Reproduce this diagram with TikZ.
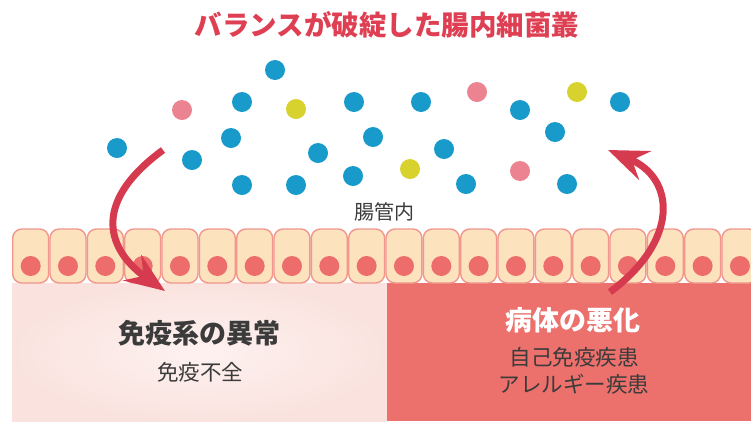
\documentclass[tikz,border=0pt]{standalone}
\usepackage{fontspec}
\setmainfont{Noto Sans CJK JP}
\usetikzlibrary{arrows.meta}

\definecolor{titlered}{HTML}{DE3F52}
\definecolor{arrowred}{HTML}{D63A4E}
\definecolor{bacblue}{HTML}{189BCB}
\definecolor{bacpink}{HTML}{EC8391}
\definecolor{bacyellow}{HTML}{D8D22E}
\definecolor{cellfill}{HTML}{FDE2BE}
\definecolor{celledge}{HTML}{F0968D}
\definecolor{nucleus}{HTML}{EC6D6B}
\definecolor{immunebg}{HTML}{FAE3DF}
\definecolor{immunemid}{HTML}{FDF1EF}
\definecolor{diseasebg}{HTML}{EC706B}
\definecolor{textgray}{HTML}{3B3B3B}

\tikzset{
  bacterium/.style={circle, fill=#1, minimum size=20pt, inner sep=0pt},
  cell/.style={draw=celledge, fill=cellfill, line width=1.4pt, rounded corners=9pt},
  flow/.style={draw=arrowred, line width=7pt, -{Stealth[length=40pt,width=31pt,inset=14pt]}},
  heading/.style={font=\bfseries\fontsize{27}{31}\selectfont},
  detail/.style={font=\fontsize{21.5}{27}\selectfont, text=textgray, align=center},
}

\begin{document}
\begin{tikzpicture}[x=1pt, y=-1pt]
  \useasboundingbox (0,0) rectangle (751,421);

  % Title
  \node[text=titlered, font=\bfseries\fontsize{27.5}{31}\selectfont] (title) at (387,25) {バランスが破綻した腸内細菌叢};

  % Bacteria in the lumen
  \foreach \x/\y/\c [count=\i] in {
      275/70/blue, 182/110/pink, 242/102/blue, 296/109/yellow, 354/102/blue,
      421/102/blue, 477/92/pink, 520/110/blue, 577/92/yellow, 620/102/blue,
      117/148/blue, 192/160/blue, 231/138/blue, 318/153/blue, 373/137/blue,
      444/149/blue, 555/132/blue, 410/169/yellow, 520/171/pink, 242/185/blue,
      296/185/blue, 353/176/blue, 466/184/blue, 567/184/blue}
    \node[bacterium=bac\c] (b\i) at (\x,\y) {};

  \node[font=\fontsize{20}{24}\selectfont, text=textgray] (lumen) at (384,212) {腸管内};

  % Tissue below the epithelium
  \shade[inner color=immunemid, outer color=immunebg] (12,283) rectangle (387,421);
  \fill[diseasebg] (387,283) rectangle (751,421);

  % Epithelial cells
  \foreach \k in {0,...,19} {
    \path[cell] ({12+37.33*\k+0.7},229) rectangle ({12+37.33*(\k+1)-0.7},283);
    \fill[nucleus] ({12+37.33*\k+18.67},266) circle (10pt);
  }

  % Labels
  \node[heading, text=textgray] (immune) at (199,333) {免疫系の異常};
  \node[detail] (immunesub) at (200,372) {免疫不全};
  \node[heading, text=white] (disease) at (573,320) {病体の悪化};
  \node[detail] (diseasesub) at (574,371) {自己免疫疾患\\アレルギー疾患};

  % Arrows
  \coordinate (lstart) at (163,150);
  \coordinate (lend) at (165,291);
  \coordinate (rstart) at (610,292);
  \coordinate (rend) at (608,150);
  \path[flow] (lstart) .. controls (88,205) and (110,252) .. (lend);
  \path[flow] (rstart) .. controls (680,240) and (675,178) .. (rend);
\end{tikzpicture}
\end{document}
